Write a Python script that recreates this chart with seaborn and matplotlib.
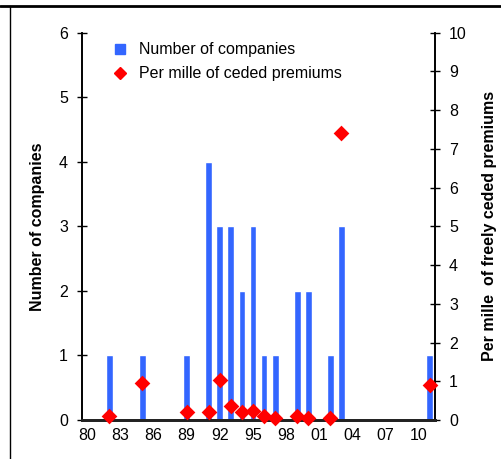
import matplotlib
matplotlib.use("Agg")
import matplotlib.pyplot as plt
from matplotlib.lines import Line2D
import seaborn as sns
import pandas as pd

# Datos
years_bar = [1982, 1985, 1989, 1991, 1992, 1993, 1994, 1995, 1996, 1997, 1999, 2000, 2002, 2003, 2011]
n_companies = [1, 1, 1, 4, 3, 3, 2, 3, 1, 1, 2, 2, 1, 3, 1]

years_pm = [1982, 1985, 1989, 1991, 1992, 1993, 1994, 1995, 1996, 1997, 1999, 2000, 2002, 2003, 2011]
per_mille = [0.11, 0.96, 0.21, 0.21, 1.02, 0.37, 0.21, 0.23, 0.11, 0.06, 0.11, 0.06, 0.06, 7.42, 0.9]

tick_years = list(range(1980, 2011, 3))
tick_labels = ['80', '83', '86', '89', '92', '95', '98', '01', '04', '07', '10']

sns.set_style('white')
plt.rcParams['font.family'] = ['Liberation Sans', 'DejaVu Sans']
plt.rcParams['text.color'] = 'black'
plt.rcParams['axes.labelcolor'] = 'black'
plt.rcParams['xtick.color'] = 'black'
plt.rcParams['ytick.color'] = 'black'

bar_color = '#3366ff'
dot_color = '#ff0000'

df_bar = pd.DataFrame({'year': years_bar, 'n': n_companies})
df_pm = pd.DataFrame({'year': years_pm, 'pm': per_mille})

fig = plt.figure(figsize=(5.01, 4.59), dpi=100)
ax = fig.add_axes([0.163, 0.085, 0.706, 0.844])

sns.barplot(data=df_bar, x='year', y='n', native_scale=True, width=0.62,
            color=bar_color, saturation=1, ax=ax)
ax.set_xlim(1979.5, 2011.5)
ax.set_ylim(0, 6)
ax.set_yticks(range(0, 7))
ax.set_xticks(tick_years)
ax.set_xticklabels(tick_labels)
ax.set_xlabel('')
ax.set_ylabel('Number of companies', fontsize=11.5, fontweight='bold', labelpad=10)
ax.tick_params(axis='y', direction='inout', length=7.7, width=1, labelsize=11.5, pad=6)
ax.tick_params(axis='x', length=0, labelsize=11.5, pad=6)

ax2 = ax.twinx()
sns.scatterplot(data=df_pm, x='year', y='pm', marker='D', s=64, color=dot_color,
                linewidth=0, ax=ax2, zorder=5, clip_on=False)
ax2.set_ylim(0, 10)
ax2.set_yticks(range(0, 11))
ax2.set_ylabel('Per mille  of freely ceded premiums', fontsize=11.5, fontweight='bold', labelpad=11)
ax2.tick_params(axis='y', direction='inout', length=7.7, width=1, labelsize=11.5, pad=6)

for a in (ax, ax2):
    a.spines['top'].set_visible(False)
    a.spines['left'].set_color('black')
    a.spines['right'].set_color('black')
    a.spines['bottom'].set_color('#222222')
    a.spines['left'].set_linewidth(1.2)
    a.spines['right'].set_linewidth(1.2)
    a.spines['bottom'].set_linewidth(2)

handles = [
    Line2D([], [], marker='s', linestyle='', color=bar_color, markersize=6.5),
    Line2D([], [], marker='D', linestyle='', color=dot_color, markersize=6.5),
]
ax.legend(handles, ['Number of companies', 'Per mille of ceded premiums'],
          loc='upper left', bbox_to_anchor=(0.205, 0.925), bbox_transform=fig.transFigure,
          frameon=False, fontsize=11.5, handletextpad=0.6, labelspacing=0.55,
          handlelength=1.2, borderpad=0)

# marco del grafico
fig.add_artist(Line2D([0, 1], [1 - 5.5 / 459, 1 - 5.5 / 459], color='black', linewidth=2,
                      transform=fig.transFigure))
fig.add_artist(Line2D([9.5 / 501, 9.5 / 501], [0, 1 - 5.5 / 459], color='black', linewidth=1,
                      transform=fig.transFigure))

fig.savefig('out.png', dpi=100)
